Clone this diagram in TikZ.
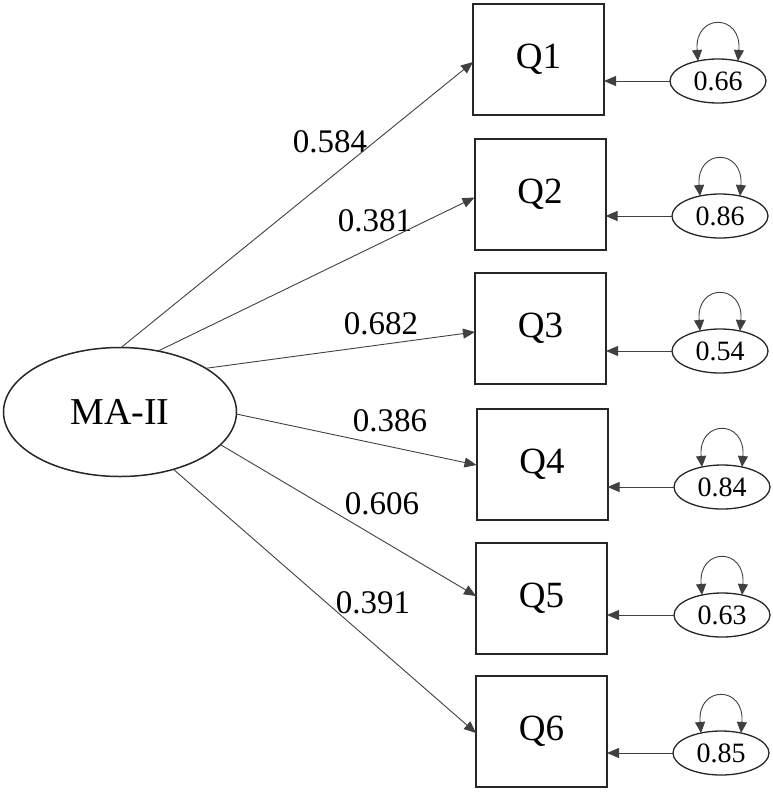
\documentclass[tikz,border=0pt]{standalone}
\usepackage{fontspec}
\setmainfont{Liberation Serif}
\newfontfamily\tnr{Liberation Serif}
\usetikzlibrary{arrows.meta,calc,shapes.geometric}
\begin{document}
\begin{tikzpicture}[x=1pt,y=-1pt,
  obs/.style={draw=black!85,line width=2pt,rectangle,minimum width=131pt,minimum height=111pt,inner sep=0pt,outer sep=0pt,font=\tnr\fontsize{37}{40}\selectfont},
  lat/.style={draw=black!85,line width=1.5pt,ellipse,minimum width=233pt,minimum height=129pt,inner sep=0pt,outer sep=0pt,font=\tnr\fontsize{38}{40}\selectfont},
  err/.style={draw=black!85,line width=1.3pt,ellipse,minimum width=96pt,minimum height=44pt,inner sep=0pt,outer sep=0pt,font=\tnr\fontsize{28}{30}\selectfont},
  lbl/.style={inner sep=0pt,font=\tnr\fontsize{33}{36}\selectfont},
  arr/.style={draw=black!75,line width=0.9pt,-{Triangle[length=12pt,width=10pt]}},
  loop/.style={draw=black!75,line width=0.9pt,{Triangle[length=11pt,width=10pt]}-{Triangle[length=11pt,width=10pt]}}
]
\useasboundingbox (0,0) rectangle (773,793);
\node[lat] (ma) at (120,412) {MA-II};
\node[obs] (q1) at (538.5,59.5) {Q1};
\node[obs] (q2) at (540,194) {Q2};
\node[obs] (q3) at (540.5,328.5) {Q3};
\node[obs] (q4) at (542,464) {Q4};
\node[obs] (q5) at (541.5,598) {Q5};
\node[obs] (q6) at (541.5,731.5) {Q6};
\node[err] (e1) at (718,81) {0.66};
\node[err] (e2) at (720,216) {0.86};
\node[err] (e3) at (720,351) {0.54};
\node[err] (e4) at (722,487) {0.84};
\node[err] (e5) at (722,615) {0.63};
\node[err] (e6) at (721,753) {0.85};
\node[lbl] (l1) at (330,142) {0.584};
\node[lbl] (l2) at (375,221) {0.381};
\node[lbl] (l3) at (381,324) {0.682};
\node[lbl] (l4) at (390,421) {0.386};
\node[lbl] (l5) at (382,504) {0.606};
\node[lbl] (l6) at (373,603) {0.391};
\draw[arr] (ma.89) -- ($(q1.west)+(0,2.5)$);
\draw[arr] (ma.58) -- ($(q2.west)+(0,3.5)$);
\draw[arr] (ma.27) -- ($(q3.west)+(0,3.5)$);
\draw[arr] (ma.-1) -- ($(q4.west)+(0,1)$);
\draw[arr] (ma.-18) -- ($(q5.west)+(0,-2)$);
\draw[arr] (ma.-47) -- ($(q6.west)+(0,1.5)$);
\foreach \i in {1,...,6}{
  \draw[arr] (e\i.west) -- (e\i.west -| q\i.east);
  \draw[loop] (e\i.135) .. controls ($(e\i.135)+(-4,-48)$) and ($(e\i.45)+(4,-48)$) .. (e\i.45);
}
\end{tikzpicture}
\end{document}
